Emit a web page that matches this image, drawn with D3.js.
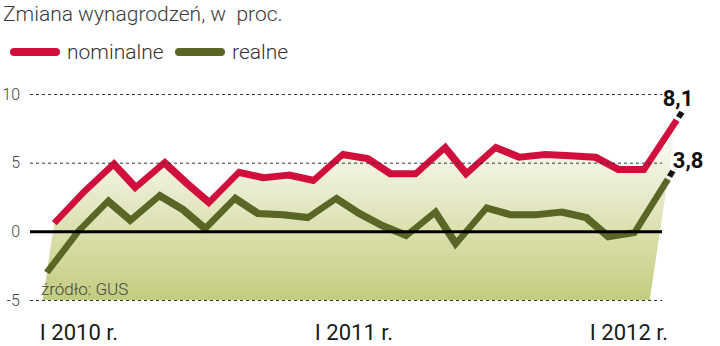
<!DOCTYPE html>
<html>
<head>
<meta charset="utf-8">
<script src="https://cdnjs.cloudflare.com/ajax/libs/d3/7.8.5/d3.min.js"></script>
<style>
  body { margin: 0; background: #fff; }
  svg { display: block; font-family: Roboto, "Liberation Sans", sans-serif; }
</style>
</head>
<body>
<div id="container"></div>
<script>
// months Jan 2010 .. Jan 2012
const months = [
  '2010-01', '2010-02', '2010-03', '2010-04', '2010-05', '2010-06', '2010-07', '2010-08', '2010-09', '2010-10', '2010-11', '2010-12',
  '2011-01', '2011-02', '2011-03', '2011-04', '2011-05', '2011-06', '2011-07', '2011-08', '2011-09', '2011-10', '2011-11', '2011-12',
  '2012-01'
];
const nominalne = [0.6, 2.9, 4.9, 3.2, 5.0, 3.5, 2.1, 4.3, 3.9, 4.1, 3.7, 5.6, 5.3, 4.2, 4.2, 6.1, 4.2, 6.1, 5.4, 5.6, 5.5, 5.4, 4.5, 4.5, 8.1];
const realne = [-3.0, 0.0, 2.2, 0.8, 2.6, 1.6, 0.2, 2.4, 1.3, 1.2, 1.0, 2.4, 1.3, 0.4, -0.3, 1.4, -0.9, 1.7, 1.2, 1.2, 1.4, 1.0, -0.4, -0.1, 3.8];
const yTicks = [10, 5, 0, -5];
const xTickMonths = ['2010-01', '2011-01', '2012-01'];
const xTickLabels = ['I 2010 r.', 'I 2011 r.', 'I 2012 r.'];
const endLabels = ['8,1', '3,8'];

const width = 720, height = 346;
const RED = '#d10f3d', GREEN = '#5a6626';
const shear = 0.15; // plot is slanted a bit, like italic

const svg = d3.select('#container').append('svg')
  .attr('width', width)
  .attr('height', height);

const x = d3.scalePoint().domain(months).range([53, 660]);
const labelX = d3.scalePoint().domain(months).range([79, 629]);
const y = d3.scaleLinear().domain([-5, 10]).range([300, 94]);

// screen x of a slanted point
const slant = (px, py) => px - shear * (py - y(0));

// gradient for the area
const grad = svg.append('defs').append('linearGradient')
  .attr('id', 'fillGrad')
  .attr('gradientUnits', 'userSpaceOnUse')
  .attr('x1', 0).attr('x2', 0)
  .attr('y1', y(8)).attr('y2', y(-5));
grad.append('stop').attr('offset', '0%').attr('stop-color', '#ffffff');
grad.append('stop').attr('offset', '30%').attr('stop-color', '#eef0da');
grad.append('stop').attr('offset', '65%').attr('stop-color', '#d9dea9');
grad.append('stop').attr('offset', '100%').attr('stop-color', '#c4cc80');

// title
svg.append('text')
  .attr('x', 3).attr('y', 21)
  .style('font-size', '21px').style('font-weight', 300)
  .style('fill', '#3a3a3a')
  .style('white-space', 'pre')
  .text('Zmiana wynagrodzeń, w  proc.');

// legend
const legend = [
  { name: 'nominalne', color: RED, x0: 10, tx: 67 },
  { name: 'realne', color: GREEN, x0: 175, tx: 232 }
];
legend.forEach(l => {
  svg.append('line')
    .attr('x1', l.x0 + 4).attr('x2', l.x0 + 46)
    .attr('y1', 52).attr('y2', 52)
    .style('stroke', l.color).style('stroke-width', 8)
    .style('stroke-linecap', 'round');
  svg.append('text')
    .attr('x', l.tx).attr('y', 59)
    .style('font-size', '21px').style('font-weight', 300)
    .style('fill', '#333')
    .text(l.name);
});

// plot group, skewed
const plot = svg.append('g')
  .attr('transform', `translate(${shear * y(0)},0) skewX(${-Math.atan(shear) * 180 / Math.PI})`);

// area under nominal line
const areaPts = months.map((m, i) => [x(m), y(nominalne[i])]);
areaPts.push([x(months[months.length - 1]), y(-5)]);
areaPts.push([x(months[0]), y(-5)]);
plot.append('path')
  .attr('d', d3.line()(areaPts) + 'Z')
  .style('fill', 'url(#fillGrad)');

// y axis with grid lines
const yAxis = svg.append('g')
  .attr('transform', 'translate(30,0)')
  .call(d3.axisLeft(y).tickValues(yTicks).tickSize(-632).tickPadding(10).tickFormat(d => String(d)));
yAxis.select('.domain').remove();
yAxis.selectAll('.tick line')
  .style('stroke', '#333')
  .style('stroke-width', 1)
  .style('stroke-dasharray', '3,3');
yAxis.selectAll('.tick text')
  .style('font-size', '16px').style('font-weight', 300)
  .style('fill', '#444').style('font-family', 'Roboto, sans-serif');
yAxis.selectAll('.tick').filter(d => d === 0).select('line')
  .style('stroke', '#000')
  .style('stroke-width', 3)
  .style('stroke-dasharray', null);

// source note
svg.append('text')
  .attr('x', 41).attr('y', 295)
  .style('font-size', '17px').style('font-weight', 300)
  .style('fill', '#444')
  .text('źródło: GUS');

// lines
const line = d3.line()
  .x((d, i) => x(months[i]))
  .y(d => y(d));

[[realne, GREEN], [nominalne, RED]].forEach(([vals, color]) => {
  plot.append('path')
    .datum(vals)
    .attr('d', line)
    .style('fill', 'none')
    .style('stroke', color)
    .style('stroke-width', 7)
    .style('stroke-linejoin', 'miter');

  // little black dash past the end
  const n = vals.length;
  const x1 = x(months[n - 2]), y1 = y(vals[n - 2]);
  const x2 = x(months[n - 1]), y2 = y(vals[n - 1]);
  const len = Math.hypot(x2 - x1, y2 - y1);
  const ux = (x2 - x1) / len, uy = (y2 - y1) / len;
  plot.append('line')
    .attr('x1', x2 + ux * 3).attr('y1', y2 + uy * 3)
    .attr('x2', x2 + ux * 9).attr('y2', y2 + uy * 9)
    .style('stroke', '#111')
    .style('stroke-width', 6);
});

// end value labels
const lastM = months[months.length - 1];
[[nominalne, endLabels[0], -14, -14], [realne, endLabels[1], 5, -11]].forEach(([vals, txt, dx, dy]) => {
  const vy = y(vals[vals.length - 1]);
  svg.append('text')
    .attr('x', slant(x(lastM), vy) + dx)
    .attr('y', vy + dy)
    .style('font-size', '22px').style('font-weight', 700)
    .style('fill', '#111')
    .text(txt);
});

// x labels
svg.selectAll('.xlab')
  .data(xTickMonths)
  .enter().append('text')
  .attr('class', 'xlab')
  .attr('x', d => labelX(d))
  .attr('y', 340)
  .attr('text-anchor', 'middle')
  .style('font-size', '22px')
  .style('fill', '#1a1a1a')
  .text((d, i) => xTickLabels[i]);
</script>
</body>
</html>
